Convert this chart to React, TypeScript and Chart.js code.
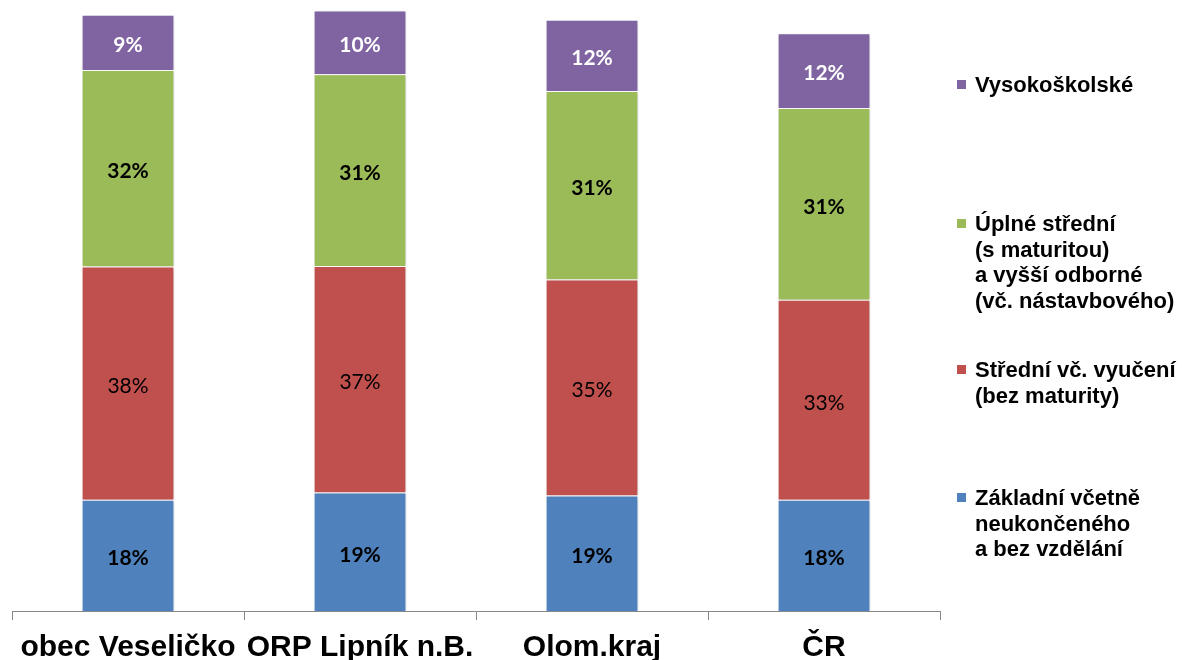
import React, { useEffect, useRef } from "react";
import { Chart, registerables } from "chart.js";

Chart.register(...registerables);

const categories = ["obec Veseličko", "ORP Lipník n.B.", "Olom.kraj", "ČR"];
const zakladni = [18.1, 19.3, 18.8, 18.1];
const stredniVyuceni = [38.0, 36.9, 35.2, 32.6];
const uplneStredni = [32.0, 31.2, 30.7, 31.2];
const vysokoskolske = [9.0, 10.4, 11.6, 12.2];

const seriesNames = [
  "Základní včetně neukončeného a bez vzdělání",
  "Střední vč. vyučení (bez maturity)",
  "Úplné střední (s maturitou) a vyšší odborné (vč. nástavbového)",
  "Vysokoškolské",
];
const legendLines = [
  ["Vysokoškolské"],
  ["Úplné střední", "(s maturitou)", "a vyšší odborné", "(vč. nástavbového)"],
  ["Střední vč. vyučení", "(bez maturity)"],
  ["Základní včetně", "neukončeného", "a bez vzdělání"],
];
const colors = ["#4F81BD", "#C0504D", "#9BBB59", "#8064A2"];
const legendColors = ["#8064A2", "#9BBB59", "#C0504D", "#4F81BD"];
const legendBaselines = [92, 231, 377, 505];

const shadowPlugin = {
  id: "barShadow",
  beforeDatasetsDraw(chart: any) {
    const ctx = chart.ctx;
    ctx.save();
    ctx.shadowColor = "rgba(0,0,0,0.22)";
    ctx.shadowBlur = 3;
    ctx.shadowOffsetX = 1;
    ctx.shadowOffsetY = 1;
  },
  afterDatasetsDraw(chart: any) {
    chart.ctx.restore();
  },
};

const labelPlugin = {
  id: "segLabels",
  afterDraw(chart: any) {
    const ctx = chart.ctx;
    ctx.save();
    ctx.textAlign = "center";
    ctx.textBaseline = "middle";
    chart.data.datasets.forEach((ds: any, di: number) => {
      const meta = chart.getDatasetMeta(di);
      meta.data.forEach((bar: any, i: number) => {
        const v = ds.data[i];
        const cy = (bar.y + bar.base) / 2 + 3;
        ctx.font = (di === 1 ? "normal" : "bold") + " 21px Lato";
        ctx.fillStyle = di === 3 ? "#ffffff" : "#000000";
        ctx.fillText(Math.round(v) + "%", bar.x, cy);
      });
    });
    ctx.textAlign = "left";
    ctx.textBaseline = "alphabetic";
    ctx.font = "bold 22px 'Liberation Sans', Arial, sans-serif";
    legendLines.forEach((lines, li) => {
      const b = legendBaselines[li];
      ctx.fillStyle = legendColors[li];
      ctx.fillRect(957, b - 12, 9, 9);
      ctx.fillStyle = "#000000";
      lines.forEach((t, k) => {
        ctx.fillText(t, 975, b + k * 25.5);
      });
    });
    ctx.restore();
  },
};

export default function App() {
  const ref = useRef<HTMLCanvasElement | null>(null);
  useEffect(() => {
    if (!ref.current) return;
    const series = [zakladni, stredniVyuceni, uplneStredni, vysokoskolske];
    const chart = new Chart(ref.current, {
      type: "bar",
      data: {
        labels: categories,
        datasets: series.map((d, i) => ({
          label: seriesNames[i],
          data: d,
          backgroundColor: colors[i],
          borderColor: "#ffffff",
          borderWidth: 1,
          barPercentage: 0.4,
          categoryPercentage: 1,
        })),
      },
      options: {
        responsive: false,
        animation: false,
        devicePixelRatio: 1,
        layout: { padding: { left: 12, right: 242, top: 0, bottom: 0 } },
        plugins: { legend: { display: false }, tooltip: { enabled: false } },
        scales: {
          x: {
            stacked: true,
            afterFit: (scale: any) => {
              scale.height = 49;
            },
            grid: {
              display: true,
              drawOnChartArea: false,
              drawTicks: true,
              tickLength: 9,
              offset: true,
              color: "#888888",
            },
            border: { display: true, color: "#888888" },
            ticks: {
              color: "#000000",
              font: { family: "'Liberation Sans', Arial, sans-serif", size: 30, weight: "bold" },
              padding: 10,
              maxRotation: 0,
              autoSkip: false,
            },
          },
          y: {
            stacked: true,
            display: false,
            min: 0,
            max: 99.5,
          },
        },
      },
      plugins: [shadowPlugin, labelPlugin],
    });
    return () => chart.destroy();
  }, []);
  return (
    <div style={{ position: "absolute", left: 0, top: 0, width: 1182, height: 660, background: "#fff" }}>
      <canvas ref={ref} width={1182} height={660} />
    </div>
  );
}
